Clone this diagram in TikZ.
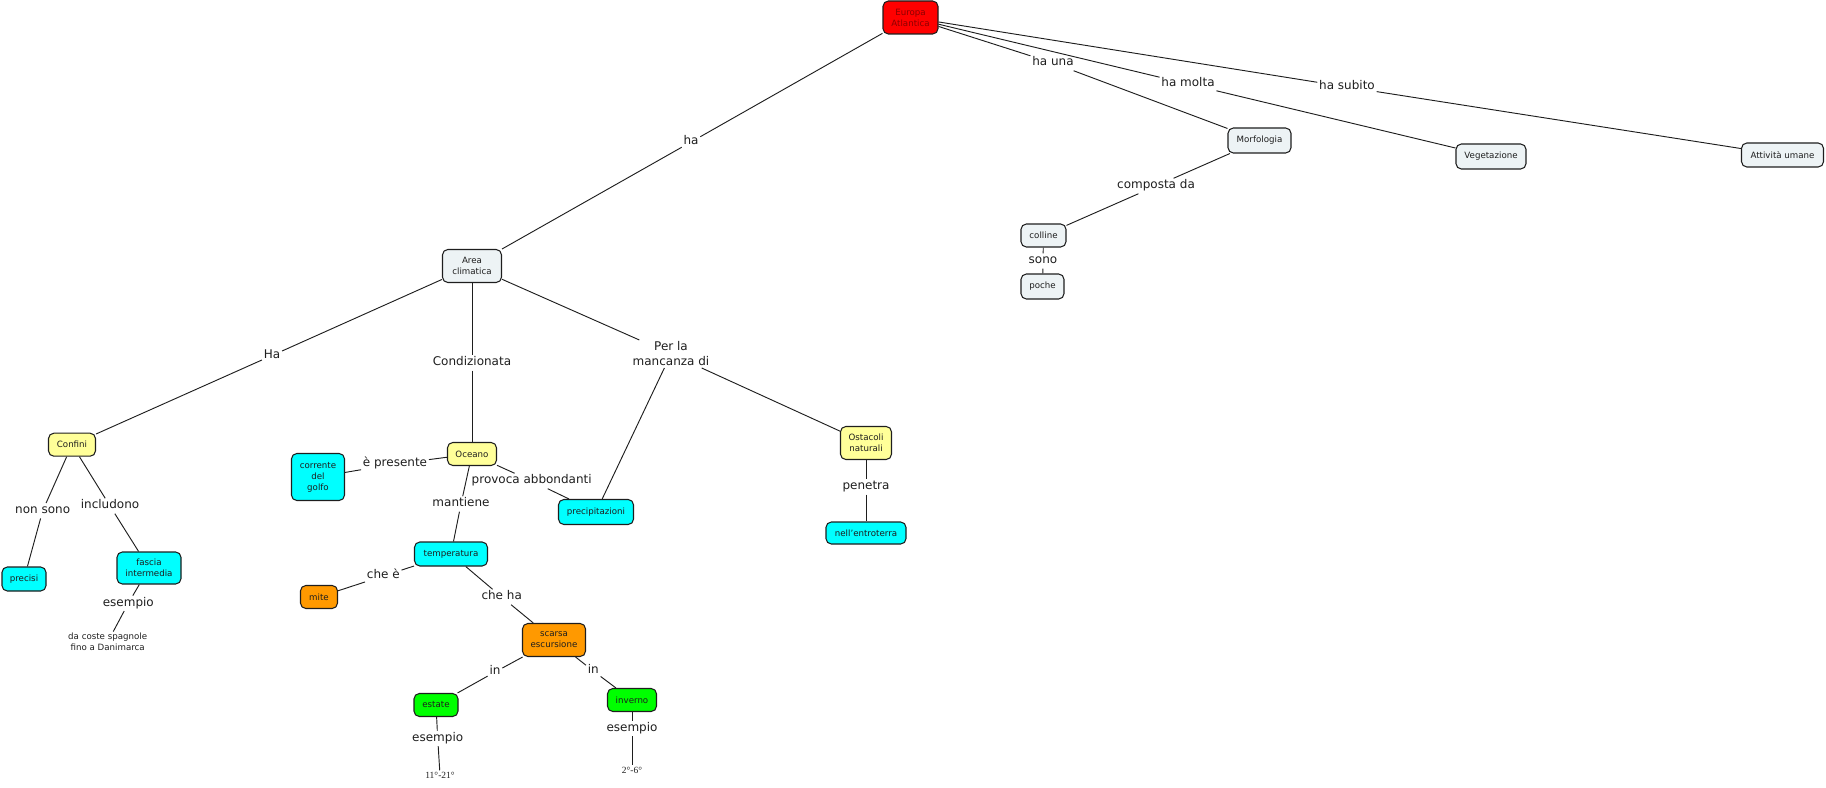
\documentclass[tikz,border=0pt]{standalone}
\usepackage{fontspec}
\setmainfont{DejaVu Sans}
\newfontfamily\numserif{Liberation Serif}
\definecolor{cGrey}{RGB}{237,243,245}
\definecolor{cYellow}{RGB}{255,255,153}
\definecolor{cCyan}{RGB}{0,255,255}
\definecolor{cOrange}{RGB}{255,153,0}
\definecolor{cGreen}{RGB}{0,255,0}
\definecolor{cRed}{RGB}{255,0,0}
\definecolor{cDarkRed}{RGB}{140,0,0}
\definecolor{cInk}{RGB}{30,30,30}
\begin{document}
\begin{tikzpicture}[x=0.75pt,y=-0.75pt,
  concept/.style={draw=cInk, line width=0.8pt, rounded corners=4pt, inner sep=0pt,
    align=center, font=\fontsize{6.5}{8.25}\selectfont, text=cInk},
  lbl/.style={inner sep=1.2pt, text height=6.5pt, text depth=2.3pt,
    font=\fontsize{9}{11.25}\selectfont, text=cInk},
  lbltwo/.style={inner sep=1.2pt, align=center,
    font=\fontsize{9}{11.25}\selectfont, text=cInk},
  plain/.style={inner sep=1pt, align=center, font=\fontsize{6.5}{8.25}\selectfont, text=cInk},
  conn/.style={line width=0.7pt, draw=cInk}]
\useasboundingbox (0,0) rectangle (1826,788);

% concepts
\node[concept, fill=cRed, text=cDarkRed, minimum width=41.25pt, minimum height=24.75pt] (europa) at (910.5,17.5) {Europa\\Atlantica};
\node[concept, fill=cGrey, minimum width=44.25pt, minimum height=24.75pt] (area) at (472,266) {Area\\climatica};
\node[concept, fill=cGrey, minimum width=47.25pt, minimum height=18.75pt] (morf) at (1259.5,140.5) {Morfologia};
\node[concept, fill=cGrey, minimum width=52.5pt, minimum height=18.75pt] (veget) at (1491,156.5) {Vegetazione};
\node[concept, fill=cGrey, minimum width=61.5pt, minimum height=18pt] (attiv) at (1782.5,155) {Attività umane};
\node[concept, fill=cGrey, minimum width=33.75pt, minimum height=17.25pt] (colline) at (1043.5,235.5) {colline};
\node[concept, fill=cGrey, minimum width=32.25pt, minimum height=18.75pt] (poche) at (1042.5,286.5) {poche};
\node[concept, fill=cYellow, minimum width=35.25pt, minimum height=17.25pt] (confini) at (72,444.7) {Confini};
\node[concept, fill=cCyan, minimum width=33pt, minimum height=18pt] (precisi) at (24,579) {precisi};
\node[concept, fill=cCyan, minimum width=48pt, minimum height=24pt] (fascia) at (149,568) {fascia\\intermedia};
\node[concept, fill=cYellow, minimum width=36.75pt, minimum height=17.25pt] (oceano) at (472,454) {Oceano};
\node[concept, fill=cCyan, minimum width=39.75pt, minimum height=35.25pt] (corrente) at (318,477) {corrente\\del\\golfo};
\node[concept, fill=cCyan, minimum width=54.75pt, minimum height=18pt] (temp) at (451,554) {temperatura};
\node[concept, fill=cOrange, minimum width=27.75pt, minimum height=17.25pt] (mite) at (319,597) {mite};
\node[concept, fill=cCyan, minimum width=56.25pt, minimum height=18.75pt] (precip) at (596,512) {precipitazioni};
\node[concept, fill=cYellow, minimum width=38.25pt, minimum height=24.75pt] (ostacoli) at (866,443) {Ostacoli\\naturali};
\node[concept, fill=cCyan, minimum width=60pt, minimum height=16.5pt] (entro) at (866,533) {nell'entroterra};
\node[concept, fill=cOrange, minimum width=47.25pt, minimum height=24.75pt] (scarsa) at (554,640) {scarsa\\escursione};
\node[concept, fill=cGreen, minimum width=33pt, minimum height=17.25pt] (estate) at (436,705) {estate};
\node[concept, fill=cGreen, minimum width=36.75pt, minimum height=17.25pt] (inverno) at (632,700) {inverno};
\node[plain] (dacoste) at (107.7,642) {da coste spagnole\\fino a Danimarca};
\node[plain, font=\numserif\fontsize{7.1}{8.5}\selectfont] (tA) at (440,775) {11°-21°};
\node[plain, font=\numserif\fontsize{7.1}{8.5}\selectfont] (tB) at (632,770) {2°-6°};

% linking phrases
\node[lbl] (ha) at (691,142) {ha};
\node[lbl] (haUna) at (1053,63) {ha una};
\node[lbl] (haMolta) at (1188,84) {ha molta};
\node[lbl] (haSubito) at (1347,87) {ha subito};
\node[lbl] (composta) at (1156,186) {composta da};
\node[lbl] (sono) at (1043,261) {sono};
\node[lbl] (Ha) at (272,355.5) {Ha};
\node[lbl] (condiz) at (472,363) {Condizionata};
\node[lbltwo] (perla) at (671,354) {Per la\\mancanza di};
\node[lbl] (nonsono) at (42.7,510.7) {non sono};
\node[lbl] (includono) at (110,506) {includono};
\node[lbl] (esA) at (128.3,603.3) {esempio};
\node[lbl] (presente) at (395,464) {è presente};
\node[lbl] (provoca) at (531.7,481) {provoca abbondanti};
\node[lbl] (mantiene) at (461,504) {mantiene};
\node[lbl] (penetra) at (866,487) {penetra};
\node[lbl] (cheE) at (383.3,576) {che è};
\node[lbl] (cheHa) at (501.7,597) {che ha};
\node[lbl] (inL) at (495,672) {in};
\node[lbl] (inR) at (593.3,671) {in};
\node[lbl] (esB) at (437.7,738.3) {esempio};
\node[lbl] (esC) at (632,728.3) {esempio};

% connectors
\draw[conn] (europa) -- (ha) (ha) -- (area);
\draw[conn] (europa) -- (haUna) (haUna) -- (morf);
\draw[conn] (europa) -- (haMolta) (haMolta) -- (veget);
\draw[conn] (europa) -- (haSubito) (haSubito) -- (attiv);
\draw[conn] (morf) -- (composta) (composta) -- (colline);
\draw[conn] (colline) -- (sono) (sono) -- (poche);
\draw[conn] (area) -- (Ha) (Ha) -- (confini);
\draw[conn] (area) -- (condiz) (condiz) -- (oceano);
\draw[conn] (area) -- (perla) (perla) -- (precip) (perla) -- (ostacoli);
\draw[conn] (confini) -- (nonsono) (nonsono) -- (precisi);
\draw[conn] (confini) -- (includono) (includono) -- (fascia);
\draw[conn] (fascia) -- (esA) (esA) -- (dacoste);
\draw[conn] (oceano) -- (presente) (presente) -- (corrente);
\draw[conn] (oceano) -- (provoca) (provoca) -- (precip);
\draw[conn] (oceano) -- (mantiene) (mantiene) -- (temp);
\draw[conn] (ostacoli) -- (penetra) (penetra) -- (entro);
\draw[conn] (temp) -- (cheE) (cheE) -- (mite);
\draw[conn] (temp) -- (cheHa) (cheHa) -- (scarsa);
\draw[conn] (scarsa) -- (inL) (inL) -- (estate);
\draw[conn] (scarsa) -- (inR) (inR) -- (inverno);
\draw[conn] (estate) -- (esB) (esB) -- (tA);
\draw[conn] (inverno) -- (esC) (esC) -- (tB);
\end{tikzpicture}
\end{document}
